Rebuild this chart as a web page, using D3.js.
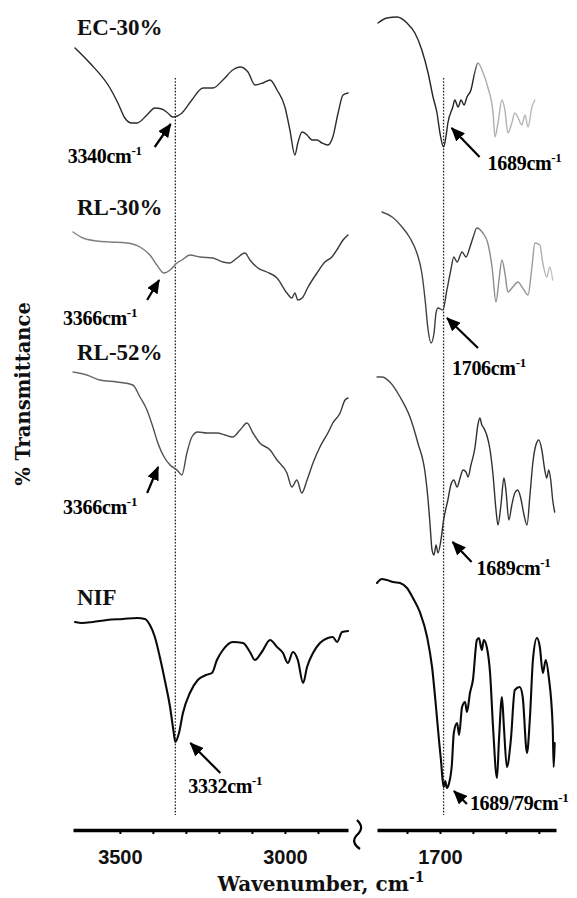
<!DOCTYPE html>
<html>
<head>
<meta charset="utf-8">
<script src="https://cdn.jsdelivr.net/npm/d3@7"></script>
<style>
  html, body { margin: 0; padding: 0; background: #fff; }
  svg { display: block; }
</style>
</head>
<body>
<svg id="chart" width="577" height="898"></svg>
<script>
// ---- FTIR spectra of nifedipine (NIF) and its dispersions, broken wavenumber axis ----

const seriesNames = ["EC-30%", "RL-30%", "RL-52%", "NIF"];
// vertical stacking of the traces, in %T units
const seriesOffsets = [330, 240, 135, 15];

// EC-30%
const ecHighWn = [3636, 3591, 3530, 3506, 3485, 3464, 3448, 3418, 3394, 3373, 3355, 3340, 3312, 3282, 3248, 3218, 3188, 3158, 3136, 3112, 3091, 3067, 3045, 3024, 3000, 2985, 2970, 2961, 2948, 2933, 2918, 2903, 2888, 2870, 2855, 2839, 2824, 2809];
const ecHighT  = [61, 53.5, 41, 33.5, 26, 23.5, 23.5, 27.5, 31, 30.5, 28.5, 26.5, 28.5, 35, 41, 41, 45, 50, 51.5, 49, 42.5, 43.5, 45, 40, 31.5, 20, 7.5, 13.5, 19, 17.5, 15, 15, 13.5, 12.5, 16.5, 28.5, 37.5, 38.5];
const ecLowWn  = [1888, 1861, 1830, 1800, 1776, 1755, 1736, 1721, 1709, 1700, 1689, 1682, 1676, 1661, 1655, 1645, 1636, 1627, 1618, 1606, 1594, 1585, 1570, 1555, 1539, 1533, 1524, 1512, 1503, 1494, 1482, 1473, 1464, 1452, 1442, 1433, 1421, 1412];
const ecLowT   = [73.5, 76, 76.5, 73.5, 68.5, 60, 48.5, 36.5, 28.5, 18.5, 11.5, 16.5, 23.5, 31.5, 35, 31.5, 35, 32.5, 36.5, 40, 49, 53.5, 49, 41.5, 28.5, 16.5, 23.5, 35, 30, 18.5, 23.5, 28.5, 26.5, 22.5, 27.5, 21.5, 31.5, 35];

// RL-30%
const rl30HighWn = [3642, 3612, 3570, 3530, 3479, 3439, 3409, 3388, 3366, 3348, 3327, 3312, 3288, 3258, 3218, 3188, 3167, 3145, 3121, 3106, 3082, 3055, 3024, 2994, 2979, 2970, 2961, 2948, 2930, 2903, 2879, 2858, 2839, 2824, 2809];
const rl30HighT  = [59, 56, 54.5, 54, 53.5, 51.5, 47.5, 42.5, 38.5, 40, 43.5, 45, 47.5, 46.5, 46, 44, 43.5, 46, 48.5, 45, 41, 39, 36, 28.5, 26, 28.5, 25, 26, 31.5, 38.5, 44, 46.5, 51, 55, 57.5];
const rl30LowWn  = [1876, 1845, 1815, 1791, 1770, 1755, 1745, 1736, 1727, 1718, 1712, 1706, 1691, 1679, 1667, 1658, 1648, 1633, 1621, 1609, 1600, 1588, 1570, 1555, 1542, 1530, 1521, 1512, 1503, 1494, 1479, 1464, 1449, 1433, 1421, 1412, 1397, 1388, 1376, 1367, 1358];
const rl30LowT   = [69, 66.5, 61.5, 56, 48.5, 38.5, 25, 10, 3.5, 8.5, 18.5, 21, 20, 30, 40, 46.5, 44, 49, 46.5, 51.5, 56, 61, 58.5, 53.5, 41.5, 24, 35, 45, 38.5, 29, 31.5, 34, 31, 27.5, 41.5, 53.5, 52.5, 43.5, 36.5, 41.5, 35];

// RL-52%
const rl52HighWn = [3642, 3600, 3561, 3509, 3461, 3439, 3418, 3400, 3385, 3366, 3348, 3327, 3312, 3297, 3282, 3264, 3236, 3206, 3182, 3158, 3136, 3115, 3097, 3076, 3045, 3024, 2994, 2979, 2964, 2949, 2933, 2915, 2894, 2870, 2855, 2833, 2818, 2809];
const rl52HighT  = [94, 92.5, 90, 89, 87.5, 81.5, 75, 66.5, 58.5, 51.5, 47.5, 45, 42.5, 53.5, 61.5, 64, 63.5, 63.5, 62.5, 61.5, 65, 68.5, 63.5, 58.5, 55, 50, 43.5, 36.5, 40, 33.5, 40, 48.5, 56.5, 63.5, 68.5, 73.5, 80, 81];
const rl52LowWn  = [1891, 1876, 1852, 1821, 1791, 1767, 1745, 1736, 1730, 1724, 1718, 1712, 1706, 1697, 1689, 1676, 1667, 1658, 1648, 1639, 1630, 1621, 1615, 1606, 1594, 1585, 1579, 1573, 1567, 1558, 1548, 1539, 1530, 1524, 1515, 1506, 1500, 1491, 1482, 1473, 1464, 1455, 1445, 1436, 1427, 1418, 1409, 1400, 1391, 1382, 1376, 1370, 1364, 1358, 1352];
const rl52LowT   = [91.5, 91.5, 89, 81.5, 71.5, 58.5, 43.5, 30, 17.5, 5, 2.5, 7.5, 3.5, 10, 20, 30, 37.5, 40, 36.5, 41, 45, 44, 41.5, 47.5, 56, 67.5, 71, 67.5, 66, 62.5, 55, 42.5, 25, 17.5, 27.5, 41, 35, 20, 27.5, 33.5, 35, 31, 22.5, 17.5, 32.5, 49, 57.5, 60, 55, 45, 41, 45, 40, 30, 24];

// NIF
const nifHighWn = [3636, 3615, 3582, 3539, 3491, 3448, 3424, 3409, 3394, 3379, 3364, 3348, 3338, 3332, 3321, 3309, 3288, 3264, 3239, 3221, 3206, 3188, 3158, 3127, 3106, 3091, 3070, 3045, 3024, 3006, 2991, 2976, 2961, 2945, 2933, 2915, 2894, 2870, 2855, 2842, 2827, 2809];
const nifHighT  = [89, 88.5, 89, 90, 90.5, 91, 90.5, 87.5, 81.5, 71.5, 60, 46.5, 35, 29, 33.5, 43.5, 53.5, 60, 62.5, 63.5, 70, 75, 79, 78.5, 74, 70, 74, 80, 76.5, 73.5, 68.5, 74, 70, 58.5, 66.5, 73.5, 78.5, 81, 81.5, 79, 84, 84.5];
const nifLowWn  = [1891, 1876, 1861, 1842, 1821, 1800, 1782, 1761, 1739, 1724, 1712, 1703, 1697, 1689, 1684, 1679, 1673, 1664, 1658, 1648, 1642, 1633, 1624, 1618, 1609, 1600, 1588, 1582, 1573, 1567, 1558, 1548, 1539, 1527, 1521, 1512, 1506, 1497, 1485, 1473, 1458, 1449, 1436, 1427, 1418, 1406, 1397, 1388, 1379, 1370, 1358, 1355, 1352];
const nifLowT   = [108.5, 110.5, 110, 109, 108.5, 106, 101, 94, 81.5, 66.5, 46.5, 30, 20, 6.5, 9.5, 6, 8, 17.5, 33.5, 38.5, 32.5, 46.5, 49, 44, 53.5, 60, 80, 81, 75, 80, 76.5, 63.5, 36.5, 11, 30, 51.5, 36.5, 16.5, 30, 55, 56.5, 51.5, 23.5, 41.5, 70, 81, 76.5, 63.5, 70, 61.5, 36.5, 16.5, 28.5];

// axis
const highDomain = [3642, 2809];
const lowDomain  = [1891, 1348];
const highTicks  = [3500, 3400, 3300, 3200, 3100, 3000, 2900];
const lowTicks   = [1800, 1700, 1600, 1500, 1400];
const tickLabels = [3500, 3000, 1700];

// peak annotations: series index, region, wavenumber of the marked point, text
const annSeries = [0, 0, 1, 1, 2, 2, 3, 3];
const annRegion = ["high", "low", "high", "low", "high", "low", "high", "low"];
const annWn     = [3340, 1689, 3366, 1706, 3366, 1689, 3332, 1679];
const annText   = ["3340", "1689", "3366", "1706", "3366", "1689", "3332", "1689/79"];

// guide lines through the NIF bands
const guideWn = [3332, 1689];

// ---- layout ----
const axisY = 830;
const svg = d3.select("#chart");

const xHigh = d3.scaleLinear().domain(highDomain).range([73, 348]);
const xLow  = d3.scaleLinear().domain(lowDomain).range([377, 556]);
const y = d3.scaleLinear().domain([0, 415]).range([axisY, 0]);

const spectra = [
  { high: [ecHighWn, ecHighT],     low: [ecLowWn, ecLowT] },
  { high: [rl30HighWn, rl30HighT], low: [rl30LowWn, rl30LowT] },
  { high: [rl52HighWn, rl52HighT], low: [rl52LowWn, rl52LowT] },
  { high: [nifHighWn, nifHighT],   low: [nifLowWn, nifLowT] }
];

// stroke shading of each trace (gray tones along the wavenumber axis)
const shade = [
  { high: [[3642, "#222"], [3250, "#333"], [2809, "#2a2a2a"]],
    low:  [[1891, "#2a2a2a"], [1600, "#222"], [1580, "#aaa"], [1348, "#c0c0c0"]] },
  { high: [[3642, "#858585"], [3300, "#707070"], [3150, "#444"], [2809, "#333"]],
    low:  [[1891, "#505050"], [1600, "#333"], [1575, "#888"], [1430, "#959595"], [1358, "#c4c4c4"]] },
  { high: [[3642, "#707070"], [3400, "#505050"], [2809, "#383838"]],
    low:  [[1891, "#505050"], [1700, "#2e2e2e"], [1348, "#333"]] },
  { high: [[3642, "#0a0a0a"], [2809, "#0a0a0a"]],
    low:  [[1891, "#0a0a0a"], [1348, "#0a0a0a"]] }
];
const widths = [1.4, 1.4, 1.4, 2.1];

const defs = svg.append("defs");
defs.append("marker")
  .attr("id", "arrowhead")
  .attr("markerUnits", "userSpaceOnUse")
  .attr("markerWidth", 14).attr("markerHeight", 12)
  .attr("refX", 13).attr("refY", 6)
  .attr("orient", "auto")
  .append("path")
  .attr("d", "M0,0 L14,6 L0,12 Z")
  .attr("fill", "#000");

// guide lines
guideWn.forEach((wn, i) => {
  const gx = i === 0 ? xHigh(wn) : xLow(wn);
  svg.append("line")
    .attr("x1", gx).attr("x2", gx)
    .attr("y1", 78).attr("y2", 815)
    .attr("stroke", "#222")
    .attr("stroke-width", 1.3)
    .attr("stroke-dasharray", "1.6,1.6");
});

// spectra
spectra.forEach((s, si) => {
  ["high", "low"].forEach(region => {
    const xs = region === "high" ? xHigh : xLow;
    const [wn, t] = s[region];
    const pts = wn.map((w, k) => [w, t[k]]);
    const gid = `shade-${si}-${region}`;
    const grad = defs.append("linearGradient")
      .attr("id", gid)
      .attr("gradientUnits", "userSpaceOnUse")
      .attr("x1", xs.range()[0]).attr("x2", xs.range()[1])
      .attr("y1", 0).attr("y2", 0);
    const span = xs.range()[1] - xs.range()[0];
    shade[si][region].forEach(([w, c]) => {
      grad.append("stop")
        .attr("offset", (xs(w) - xs.range()[0]) / span)
        .attr("stop-color", c);
    });
    const line = d3.line()
      .x(d => xs(d[0]))
      .y(d => y(seriesOffsets[si] + d[1]))
      .curve(d3.curveMonotoneX);
    svg.append("path")
      .datum(pts)
      .attr("d", line)
      .attr("fill", "none")
      .attr("stroke", `url(#${gid})`)
      .attr("stroke-width", widths[si])
      .attr("stroke-linejoin", "round")
      .attr("stroke-linecap", "round");
  });
});

// series labels
const labelPos = [[77, 35], [77, 215], [77, 360], [77, 605]];
seriesNames.forEach((n, i) => {
  svg.append("text")
    .attr("x", labelPos[i][0]).attr("y", labelPos[i][1])
    .attr("font-family", "'Liberation Serif', 'Times New Roman', serif")
    .attr("font-weight", "bold")
    .attr("font-size", 23)
    .attr("fill", "#111")
    .text(n);
});

// annotations: arrow head, arrow tail and text start, relative to the marked point
const annLayout = [
  { head: [-2, 7],  tail: [-18, 30], text: [-105, 46] },
  { head: [8, -19], tail: [36, 10],  text: [44, 23] },
  { head: [-5, 7],  tail: [-17, 27], text: [-101, 52] },
  { head: [9, 10],  tail: [40, 40],  text: [14, 67] },
  { head: [-6, 10], tail: [-17, 36], text: [-101, 57] },
  { head: [9, 22],  tail: [28, 42],  text: [33, 55] },
  { head: [15, 1],  tail: [45, 31],  text: [13, 51] },
  { head: [7, 3],   tail: [20, 16],  text: [23, 22] }
];

annWn.forEach((wn, i) => {
  const si = annSeries[i];
  const region = annRegion[i];
  const xs = region === "high" ? xHigh : xLow;
  const [wns, ts] = spectra[si][region];
  const k = wns.indexOf(wn);
  const ax = xs(wn);
  const ay = y(seriesOffsets[si] + ts[k]);
  const L = annLayout[i];
  svg.append("line")
    .attr("x1", ax + L.tail[0]).attr("y1", ay + L.tail[1])
    .attr("x2", ax + L.head[0]).attr("y2", ay + L.head[1])
    .attr("stroke", "#000")
    .attr("stroke-width", 2.2)
    .attr("marker-end", "url(#arrowhead)");
  const t = svg.append("text")
    .attr("x", ax + L.text[0]).attr("y", ay + L.text[1])
    .attr("font-family", "'Liberation Serif', 'Times New Roman', serif")
    .attr("font-weight", "bold")
    .attr("font-size", 20)
    .attr("letter-spacing", -0.3)
    .attr("fill", "#000");
  t.append("tspan").text(annText[i] + "cm");
  t.append("tspan").attr("dy", -8).attr("font-size", 13).text("-1");
});

// axes
function styleAxis(g) {
  g.select(".domain").attr("stroke", "#000").attr("stroke-width", 3.5);
  g.selectAll(".tick line").attr("stroke", "#000").attr("stroke-width", 2);
  g.selectAll(".tick text")
    .attr("font-family", "'Liberation Sans', Arial, sans-serif")
    .attr("font-weight", "bold")
    .attr("font-size", 20)
    .attr("fill", "#111");
}
const fmt = d => tickLabels.includes(d) ? String(d) : "";
svg.append("g")
  .attr("transform", `translate(0,${axisY})`)
  .call(d3.axisBottom(xHigh).tickValues(highTicks).tickSize(4).tickSizeOuter(0).tickPadding(16).tickFormat(fmt))
  .call(styleAxis);
svg.append("g")
  .attr("transform", `translate(0,${axisY})`)
  .call(d3.axisBottom(xLow).tickValues(lowTicks).tickSize(4).tickSizeOuter(0).tickPadding(16).tickFormat(fmt))
  .call(styleAxis);

// axis break mark
svg.append("path")
  .attr("d", "M357,820 C363,826 362,830 357,835 C352,840 354,845 360,849")
  .attr("fill", "none")
  .attr("stroke", "#000")
  .attr("stroke-width", 2.2);

// axis titles
const xt = svg.append("text")
  .attr("x", 321).attr("y", 891)
  .attr("text-anchor", "middle")
  .attr("font-family", "'DejaVu Serif', serif")
  .attr("font-weight", "bold")
  .attr("font-size", 20)
  .attr("fill", "#111");
xt.append("tspan").text("Wavenumber, cm");
xt.append("tspan").attr("dy", -9).attr("font-size", 14).text("-1");

svg.append("text")
  .attr("transform", "translate(30,394) rotate(-90)")
  .attr("text-anchor", "middle")
  .attr("font-family", "'DejaVu Serif', serif")
  .attr("font-weight", "bold")
  .attr("font-size", 19.5)
  .attr("fill", "#111")
  .text("% Transmittance");
</script>
</body>
</html>
